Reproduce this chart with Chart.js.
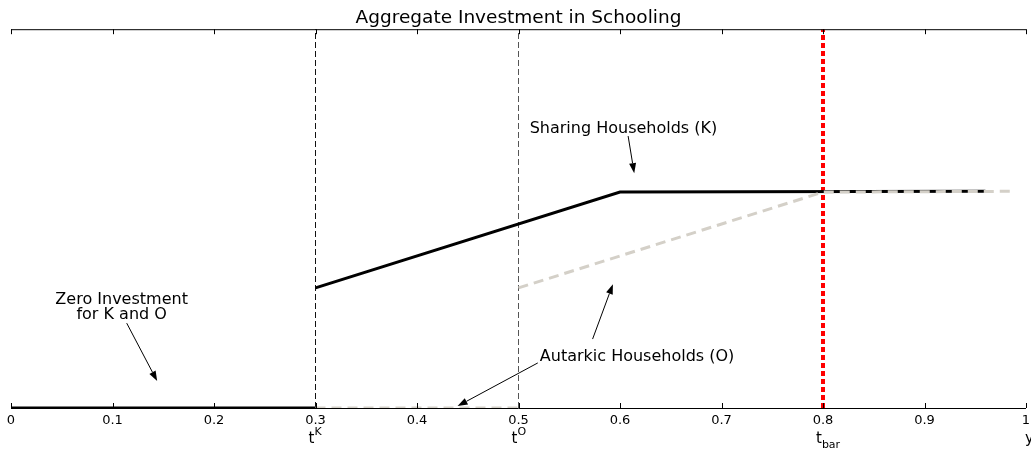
<!DOCTYPE html>
<html>
<head>
<meta charset="utf-8">
<script src="https://cdn.jsdelivr.net/npm/chart.js@4.4.0/dist/chart.umd.min.js"></script>
<style>
  html, body { margin: 0; background: #fff; }
  #wrap { width: 1031px; height: 454px; }
</style>
</head>
<body>
<div id="wrap"><canvas id="grafico"></canvas></div>
<script>
// valores (eixo y normalizado 0..1)
const xTicks = [0, 0.1, 0.2, 0.3, 0.4, 0.5, 0.6, 0.7, 0.8, 0.9, 1];
const sharingX = [0, 0.3, 0.3, 0.3, 0.6, 0.96];
const sharingY = [0, 0, null, 0.317, 0.570, 0.572];
const autarkicX = [0.3, 0.5, 0.5, 0.5, 0.8, 0.985];
const autarkicY = [0, 0, null, 0.317, 0.570, 0.572];
const limiares = [0.3, 0.5];   // t^K, t^O
const tBar = 0.8;

// rótulos abaixo do eixo
const rotulosEixo = [
  { x: 0.3, base: 't', sup: 'K' },
  { x: 0.5, base: 't', sup: 'O' },
  { x: 0.8, base: 't', sub: 'bar' },
  { x: 1.0, base: 'y', sub: 'j' }
];

// anotações (coordenadas em unidades dos dados)
const textos = [
  { linhas: ['Sharing Households (K)'], x: 0.511, y: 0.738, align: 'left' },
  { linhas: ['Zero Investment', 'for K and O'], x: 0.109, y: 0.285, align: 'center' },
  { linhas: ['Autarkic Households (O)'], x: 0.521, y: 0.134, align: 'left' }
];
const setas = [
  { x0: 0.608, y0: 0.718, x1: 0.614, y1: 0.620 },
  { x0: 0.114, y0: 0.224, x1: 0.144, y1: 0.071 },
  { x0: 0.519, y0: 0.119, x1: 0.440, y1: 0.005 },
  { x0: 0.573, y0: 0.182, x1: 0.593, y1: 0.327 }
];

const FONTE = "'DejaVu Sans', 'Liberation Sans', sans-serif";

const pontos = (xs, ys) => xs.map((x, i) => ({ x: x, y: ys[i] }));

function desenharSeta(ctx, x0, y0, x1, y1) {
  const ang = Math.atan2(y1 - y0, x1 - x0);
  const len = 10, meia = 3.5;
  const bx = x1 - len * Math.cos(ang), by = y1 - len * Math.sin(ang);
  ctx.beginPath();
  ctx.moveTo(x0, y0);
  ctx.lineTo(bx, by);
  ctx.stroke();
  ctx.beginPath();
  ctx.moveTo(x1, y1);
  ctx.lineTo(bx + meia * Math.sin(ang), by - meia * Math.cos(ang));
  ctx.lineTo(bx - meia * Math.sin(ang), by + meia * Math.cos(ang));
  ctx.closePath();
  ctx.fill();
}

const eixosMatlab = {
  id: 'eixosMatlab',
  afterDraw(chart) {
    const ctx = chart.ctx;
    const a = chart.chartArea;
    const sx = chart.scales.x, sy = chart.scales.y;
    ctx.save();
    ctx.strokeStyle = '#000';
    ctx.fillStyle = '#000';
    ctx.lineWidth = 1;
    ctx.setLineDash([]);

    // linhas de cima e de baixo
    ctx.beginPath();
    ctx.moveTo(a.left, a.top + 0.5); ctx.lineTo(a.right, a.top + 0.5);
    ctx.moveTo(a.left, a.bottom + 0.5); ctx.lineTo(a.right, a.bottom + 0.5);
    ctx.stroke();

    // marcas para dentro
    ctx.beginPath();
    xTicks.forEach(v => {
      const px = Math.round(sx.getPixelForValue(v)) + 0.5;
      ctx.moveTo(px, a.top); ctx.lineTo(px, a.top + 5);
      ctx.moveTo(px, a.bottom); ctx.lineTo(px, a.bottom - 5);
    });
    ctx.stroke();

    // t^K, t^O, t_bar, y_j
    ctx.textBaseline = 'alphabetic';
    ctx.textAlign = 'left';
    rotulosEixo.forEach(r => {
      let px = sx.getPixelForValue(r.x) - (r.base === 'y' ? 1 : 7);
      const base = a.bottom + 35;
      ctx.font = '15px ' + FONTE;
      ctx.fillText(r.base, px, base);
      px += ctx.measureText(r.base).width;
      ctx.font = '11px ' + FONTE;
      if (r.sup) ctx.fillText(r.sup, px, base - 8);
      if (r.sub) ctx.fillText(r.sub, px, base + 5);
    });

    // textos das anotações
    ctx.font = '16px ' + FONTE;
    ctx.textBaseline = 'middle';
    textos.forEach(t => {
      ctx.textAlign = t.align;
      t.linhas.forEach((l, i) => {
        ctx.fillText(l, sx.getPixelForValue(t.x), sy.getPixelForValue(t.y) + i * 15);
      });
    });

    // setas
    setas.forEach(s => {
      desenharSeta(ctx,
        sx.getPixelForValue(s.x0), sy.getPixelForValue(s.y0),
        sx.getPixelForValue(s.x1), sy.getPixelForValue(s.y1));
    });
    ctx.restore();
  }
};

const ctx = document.getElementById('grafico').getContext('2d');
new Chart(ctx, {
  type: 'line',
  data: {
    datasets: [
      {
        label: 'Autarkic Households (O)',
        data: pontos(autarkicX, autarkicY),
        borderColor: '#d4d0c8',
        borderWidth: 3,
        borderDash: [10, 6],
        order: 0
      },
      {
        label: 'Sharing Households (K)',
        data: pontos(sharingX, sharingY),
        borderColor: '#000',
        borderWidth: 3,
        order: 1
      },
      {
        label: 't^K',
        data: [{ x: limiares[0], y: 0 }, { x: limiares[0], y: 1 }],
        borderColor: '#111',
        borderWidth: 1,
        borderDash: [6, 3],
        order: 2
      },
      {
        label: 't^O',
        data: [{ x: limiares[1], y: 0 }, { x: limiares[1], y: 1 }],
        borderColor: '#555',
        borderWidth: 1,
        borderDash: [6, 3],
        order: 2
      },
      {
        label: 't_bar',
        data: [{ x: tBar, y: 0 }, { x: tBar, y: 1 }],
        borderColor: '#ff0000',
        borderWidth: 4,
        borderDash: [5, 3],
        order: 3
      }
    ]
  },
  options: {
    responsive: true,
    maintainAspectRatio: false,
    animation: false,
    events: [],
    elements: { point: { radius: 0 }, line: { tension: 0 } },
    layout: { padding: { left: 11, right: 5, top: 0, bottom: 0 } },
    plugins: {
      legend: { display: false },
      tooltip: { enabled: false },
      title: {
        display: true,
        text: 'Aggregate Investment in Schooling',
        color: '#000',
        font: { family: FONTE, size: 18.5, weight: 'normal' },
        padding: { top: 7, bottom: 0 }
      }
    },
    scales: {
      x: {
        type: 'linear',
        min: 0,
        max: 1,
        grid: { display: false, drawTicks: false, tickLength: 0 },
        border: { display: false },
        afterBuildTicks: s => { s.ticks = xTicks.map(v => ({ value: v })); },
        afterFit: s => { s.height = 46; s.paddingLeft = 0; s.paddingRight = 0; },
        ticks: {
          color: '#000',
          padding: 5,
          maxRotation: 0,
          autoSkip: false,
          font: { family: FONTE, size: 13 },
          callback: v => String(Number(v.toFixed(1)))
        }
      },
      y: { type: 'linear', min: 0, max: 1, display: false }
    }
  },
  plugins: [eixosMatlab]
});
</script>
</body>
</html>
